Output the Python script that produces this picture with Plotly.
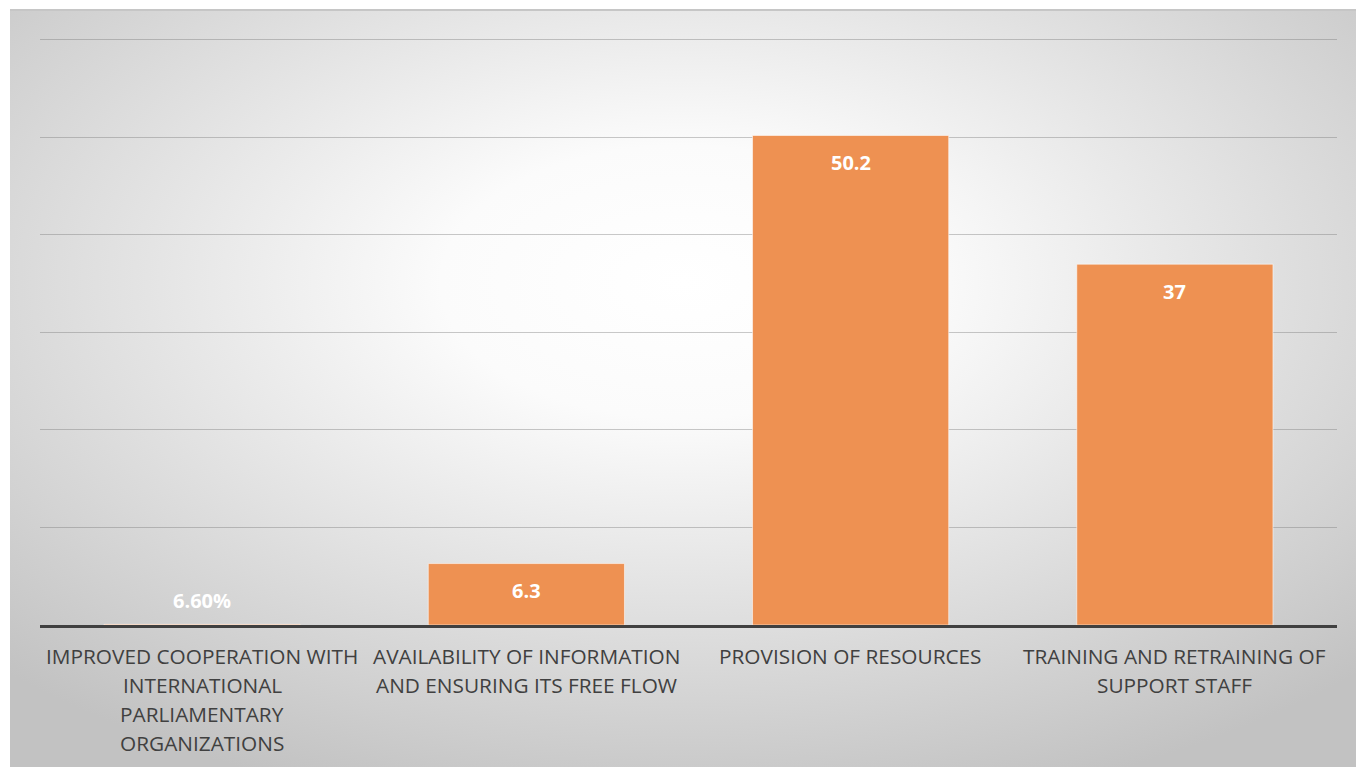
import base64
import plotly.graph_objects as go

categories = [
    "IMPROVED COOPERATION WITH<br>INTERNATIONAL<br>PARLIAMENTARY<br>ORGANIZATIONS",
    "AVAILABILITY OF INFORMATION<br>AND ENSURING ITS FREE FLOW",
    "PROVISION OF RESOURCES",
    "TRAINING AND RETRAINING OF<br>SUPPORT STAFF",
]
values = [0.066, 6.3, 50.2, 37]
value_labels = ["6.60%", "6.3", "50.2", "37"]

W, H = 1356, 767
ml, mr, mt, mb = 40, 19, 37, 142
pw, ph = W - ml - mr, H - mt - mb

svg = (
    '<svg xmlns="http://www.w3.org/2000/svg" width="1346" height="758" preserveAspectRatio="none">'
    '<defs><radialGradient id="g" cx="0.5" cy="0.36" r="0.72" gradientUnits="objectBoundingBox">'
    '<stop offset="0" stop-color="#ffffff"/>'
    '<stop offset="0.25" stop-color="#fbfbfb"/>'
    '<stop offset="1" stop-color="#c2c2c2"/>'
    '</radialGradient></defs>'
    '<rect x="0" y="0" width="1346" height="758" fill="url(#g)"/>'
    '<rect x="0" y="0" width="1346" height="2" fill="#c6c6c6"/>'
    '</svg>'
)
src = "data:image/svg+xml;base64," + base64.b64encode(svg.encode()).decode()

fig = go.Figure()
fig.add_trace(go.Bar(
    x=categories, y=values,
    marker=dict(color="#EE9152", line=dict(color="rgba(255,255,255,0.55)", width=1)),
    width=0.605,
    hoverinfo="skip",
))

annotations = []
for i, (c, v, t) in enumerate(zip(categories, values, value_labels)):
    if v < 3:
        annotations.append(dict(x=c, y=0, xref="x", yref="y", text="<b>%s</b>" % t,
                                showarrow=False, yanchor="middle", yshift=25,
                                font=dict(family="Open Sans", size=20, color="#ffffff")))
    else:
        annotations.append(dict(x=c, y=v, xref="x", yref="y", text="<b>%s</b>" % t,
                                showarrow=False, yanchor="middle", yshift=-27,
                                font=dict(family="Open Sans", size=20, color="#ffffff")))
    lines = c.split("<br>")
    for j, ln in enumerate(lines):
        annotations.append(dict(x=c, y=0, xref="x", yref="y", text=ln, showarrow=False,
                                yanchor="middle", yshift=-31 - 29 * j,
                                font=dict(family="Open Sans", size=20.8, color="#404040")))

fig.update_layout(
    width=W, height=H,
    margin=dict(l=ml, r=mr, t=mt, b=mb),
    paper_bgcolor="#ffffff",
    plot_bgcolor="rgba(0,0,0,0)",
    showlegend=False,
    annotations=annotations,
    images=[dict(
        source=src, xref="paper", yref="paper",
        x=(10 - ml) / pw, y=(H - mb - 9) / ph,
        sizex=1346 / pw, sizey=758 / ph,
        xanchor="left", yanchor="top", sizing="stretch", layer="below",
    )],
    xaxis=dict(showticklabels=False, showgrid=False, zeroline=False,
               showline=True, linecolor="#404040", linewidth=3, ticks=""),
    yaxis=dict(range=[0, 60.3], tickvals=[10, 20, 30, 40, 50, 60], showticklabels=False,
               showgrid=True, gridcolor="rgba(120,120,120,0.4)", gridwidth=1,
               zeroline=False, showline=False, ticks=""),
    bargap=0.395,
)

fig.write_html("out.html")
